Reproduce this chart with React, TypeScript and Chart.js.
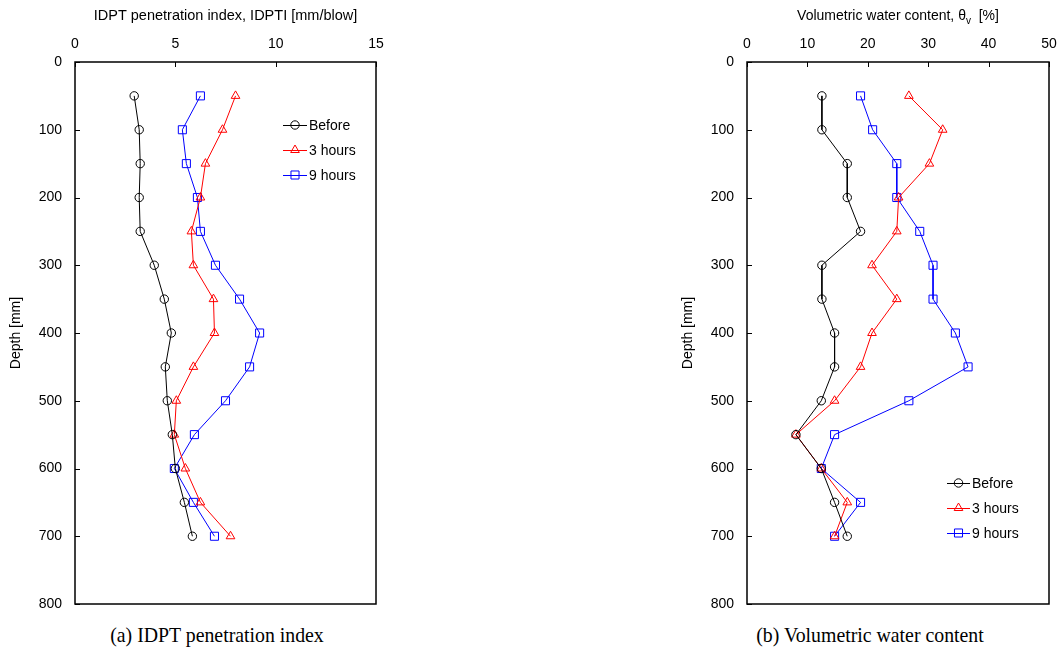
import React, { useEffect, useRef } from 'react';
import { Chart, registerables } from 'chart.js';

Chart.register(...registerables);

// ---- data ----
const depths = [50, 100, 150, 200, 250, 300, 350, 400, 450, 500, 550, 600, 650, 700];
const seriesNames = ['Before', '3 hours', '9 hours'];

const idptBefore = [2.95, 3.2, 3.25, 3.2, 3.25, 3.95, 4.45, 4.8, 4.5, 4.6, 4.85, 5.0, 5.45, 5.85];
const idpt3h = [8.0, 7.35, 6.5, 6.25, 5.8, 5.9, 6.9, 6.95, 5.9, 5.05, 4.95, 5.5, 6.25, 7.75];
const idpt9h = [6.25, 5.35, 5.55, 6.1, 6.25, 7.0, 8.2, 9.2, 8.7, 7.5, 5.95, 4.95, 5.9, 6.95];

const vwcBefore = [12.4, 12.4, 16.6, 16.6, 18.8, 12.4, 12.4, 14.5, 14.5, 12.3, 8.1, 12.3, 14.5, 16.6];
const vwc3h = [26.8, 32.4, 30.2, 25.1, 24.8, 20.7, 24.8, 20.7, 18.8, 14.5, 8.1, 12.3, 16.6, 14.5];
const vwc9h = [18.8, 20.8, 24.8, 24.8, 28.6, 30.8, 30.8, 34.5, 36.6, 26.8, 14.5, 12.3, 18.8, 14.5];

const seriesColors = ['#000000', '#FF0000', '#0000FF'];
const pointStyles = ['circle', 'triangle', 'rect'];
const pointRadii = [4.2, 5, 5.7];

const FONT = "'Liberation Sans', Arial, sans-serif";

function drawMarker(ctx: CanvasRenderingContext2D, style: string, x: number, y: number, r: number) {
  ctx.beginPath();
  if (style === 'circle') {
    ctx.arc(x, y, r, 0, Math.PI * 2);
  } else if (style === 'triangle') {
    let rad = 0;
    ctx.moveTo(x + Math.sin(rad) * r, y - Math.cos(rad) * r);
    rad += (2 * Math.PI) / 3;
    ctx.lineTo(x + Math.sin(rad) * r, y - Math.cos(rad) * r);
    rad += (2 * Math.PI) / 3;
    ctx.lineTo(x + Math.sin(rad) * r, y - Math.cos(rad) * r);
    ctx.closePath();
  } else {
    const s = Math.SQRT1_2 * r;
    ctx.rect(x - s, y - s, 2 * s, 2 * s);
  }
  ctx.stroke();
}

const framePlugin = {
  id: 'frameTicks',
  afterDatasetsDraw(chart: any) {
    const { ctx, chartArea } = chart;
    const { left, right, top, bottom } = chartArea;
    ctx.save();
    ctx.strokeStyle = '#000';
    ctx.lineWidth = 1.5;
    ctx.strokeRect(left, top, right - left, bottom - top);
    ctx.lineWidth = 1;
    const xs = chart.scales.x;
    xs.ticks.forEach((t: any) => {
      const px = Math.round(xs.getPixelForValue(t.value)) + 0.5;
      ctx.beginPath();
      ctx.moveTo(px, top);
      ctx.lineTo(px, top + 5);
      ctx.stroke();
    });
    const ys = chart.scales.y;
    ys.ticks.forEach((t: any) => {
      const py = Math.round(ys.getPixelForValue(t.value)) + 0.5;
      ctx.beginPath();
      ctx.moveTo(left, py);
      ctx.lineTo(left + 5, py);
      ctx.stroke();
    });
    ctx.restore();
  },
};

const legendPlugin = {
  id: 'insideLegend',
  afterDraw(chart: any) {
    const o = chart.options.plugins.insideLegend;
    if (!o) return;
    const ctx = chart.ctx;
    ctx.save();
    ctx.font = `14px ${FONT}`;
    ctx.textBaseline = 'middle';
    ctx.textAlign = 'left';
    chart.data.datasets.forEach((ds: any, i: number) => {
      const y = o.y + i * o.rowGap;
      ctx.strokeStyle = ds.borderColor;
      ctx.lineWidth = 1;
      ctx.beginPath();
      ctx.moveTo(o.x, y + 0.5);
      ctx.lineTo(o.x + o.lineLen, y + 0.5);
      ctx.stroke();
      drawMarker(ctx, ds.pointStyle, o.x + o.lineLen / 2, y, ds.pointRadius);
      ctx.fillStyle = '#000';
      ctx.fillText(ds.label, o.x + o.lineLen + 2, y + 1);
    });
    ctx.restore();
  },
};

const subTitlePlugin = {
  id: 'subTitle',
  afterDraw(chart: any) {
    const o = chart.options.plugins.subTitle;
    if (!o || !o.main) return;
    const ctx = chart.ctx;
    const { left, right } = chart.chartArea;
    ctx.save();
    ctx.fillStyle = '#000';
    ctx.textBaseline = 'middle';
    ctx.textAlign = 'left';
    const mainFont = `14px ${FONT}`;
    const subFont = `10px ${FONT}`;
    ctx.font = mainFont;
    const w1 = ctx.measureText(o.main).width;
    const w3 = ctx.measureText(o.tail).width;
    ctx.font = subFont;
    const w2 = ctx.measureText(o.sub).width;
    let x = (left + right) / 2 - (w1 + w2 + w3) / 2;
    ctx.font = mainFont;
    ctx.fillText(o.main, x, o.y);
    x += w1;
    ctx.font = subFont;
    ctx.fillText(o.sub, x, o.y + 5);
    x += w2;
    ctx.font = mainFont;
    ctx.fillText(o.tail, x, o.y);
    ctx.restore();
  },
};

function zeroPadding(scale: any) {
  scale.paddingLeft = 0;
  scale.paddingRight = 0;
  scale.paddingTop = 0;
  scale.paddingBottom = 0;
}

function makeConfig(
  seriesVals: number[][],
  xMax: number,
  xStep: number,
  xTitle: string | null,
  padRight: number,
  legend: { x: number; y: number; rowGap: number; lineLen: number },
  sub: any
): any {
  return {
    type: 'line',
    data: {
      datasets: seriesVals.map((vals, i) => ({
        label: seriesNames[i],
        data: depths.map((d, j) => ({ x: vals[j], y: d })),
        borderColor: seriesColors[i],
        backgroundColor: 'rgba(0,0,0,0)',
        borderWidth: 1,
        pointStyle: pointStyles[i],
        pointRadius: pointRadii[i],
        pointBorderWidth: 1,
        pointBorderColor: seriesColors[i],
        pointBackgroundColor: 'rgba(0,0,0,0)',
        tension: 0,
        fill: false,
      })),
    },
    options: {
      responsive: false,
      animation: false,
      devicePixelRatio: 1,
      layout: { padding: { left: 0, top: 0, right: padRight, bottom: 16 } },
      plugins: {
        legend: { display: false },
        tooltip: { enabled: false },
        insideLegend: legend,
        subTitle: sub,
      },
      scales: {
        x: {
          type: 'linear',
          position: 'top',
          min: 0,
          max: xMax,
          ticks: { stepSize: xStep, color: '#000', font: { family: FONT, size: 14 }, padding: 9, maxRotation: 0 },
          grid: { display: false, drawTicks: false },
          border: { display: false },
          title: {
            display: !!xTitle,
            text: xTitle || '',
            color: '#000',
            font: { family: FONT, size: 14.5 },
            padding: { top: 7.6, bottom: 0 },
          },
          afterFit(scale: any) {
            scale.height = 62;
            zeroPadding(scale);
          },
        },
        y: {
          type: 'linear',
          position: 'left',
          reverse: true,
          min: 0,
          max: 800,
          ticks: { stepSize: 100, color: '#000', font: { family: FONT, size: 14 }, padding: 13 },
          grid: { display: false, drawTicks: false },
          border: { display: false },
          title: {
            display: true,
            text: 'Depth [mm]',
            color: '#000',
            font: { family: FONT, size: 14 },
            padding: { top: 7.6, bottom: 0 },
          },
          afterFit(scale: any) {
            scale.width = 75;
            zeroPadding(scale);
          },
        },
      },
    },
    plugins: [framePlugin, legendPlugin, subTitlePlugin],
  };
}

function ChartCanvas({ config, width, height, left }: { config: any; width: number; height: number; left: number }) {
  const ref = useRef<HTMLCanvasElement | null>(null);
  useEffect(() => {
    if (!ref.current) return;
    const chart = new Chart(ref.current, config);
    return () => chart.destroy();
  }, [config]);
  return (
    <canvas
      ref={ref}
      width={width}
      height={height}
      style={{ position: 'absolute', left, top: 0, width, height, display: 'block' }}
    />
  );
}

const leftConfig = makeConfig(
  [idptBefore, idpt3h, idpt9h],
  15,
  5,
  'IDPT penetration index, IDPTI [mm/blow]',
  24,
  { x: 283, y: 125, rowGap: 25, lineLen: 24 },
  null
);

const rightConfig = makeConfig(
  [vwcBefore, vwc3h, vwc9h],
  50,
  10,
  null,
  8,
  { x: 275, y: 483, rowGap: 25, lineLen: 23 },
  { main: 'Volumetric water content, θ', sub: 'v', tail: '  [%]', y: 16 }
);

const captionStyle: React.CSSProperties = {
  position: 'absolute',
  top: 621,
  fontFamily: "'Liberation Serif', 'Times New Roman', serif",
  fontSize: 22,
  color: '#000',
  whiteSpace: 'nowrap',
  transform: 'translateX(-50%) scaleX(0.9)',
  lineHeight: '28px',
};

export default function App() {
  return (
    <div style={{ position: 'absolute', left: 0, top: 0, width: 1057, height: 654, background: '#fff', overflow: 'hidden' }}>
      <ChartCanvas config={leftConfig} width={400} height={620} left={0} />
      <ChartCanvas config={rightConfig} width={385} height={620} left={672} />
      <div style={{ ...captionStyle, left: 217 }}>(a) IDPT penetration index</div>
      <div style={{ ...captionStyle, left: 870 }}>(b) Volumetric water content</div>
    </div>
  );
}
